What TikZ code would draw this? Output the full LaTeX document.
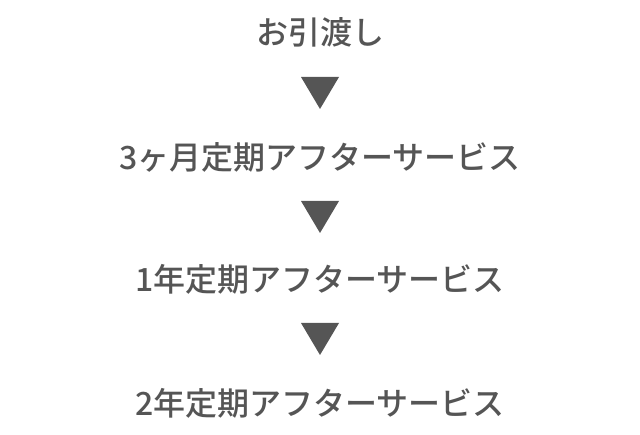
\documentclass[tikz,border=0pt]{standalone}
\usepackage{fontspec}
\setmainfont{Noto Sans CJK JP}[BoldFont={* Medium}]
\definecolor{txt}{HTML}{555555}
\begin{document}
\begin{tikzpicture}[x=1pt,y=1pt,
  lbl/.style={text=txt,font=\fontsize{32}{36}\selectfont\bfseries,inner sep=0pt,anchor=center},
  tri/.style={fill=txt,draw=none}]
\useasboundingbox (0,0) rectangle (640,434);
\node[lbl] (a) at (320,402) {お引渡し};
\node[lbl] (b) at (320,277) {3ヶ月定期アフターサービス};
\node[lbl] (c) at (320,155) {1年定期アフターサービス};
\node[lbl] (d) at (320,31) {2年定期アフターサービス};
\coordinate (t1) at (320,341);
\coordinate (t2) at (320,217);
\coordinate (t3) at (320,95);
\foreach \t in {t1,t2,t3}{
  \fill[tri] ([shift={(-19,16)}]\t) -- ([shift={(19,16)}]\t) -- ([shift={(0,-16)}]\t) -- cycle;
}
\end{tikzpicture}
\end{document}
